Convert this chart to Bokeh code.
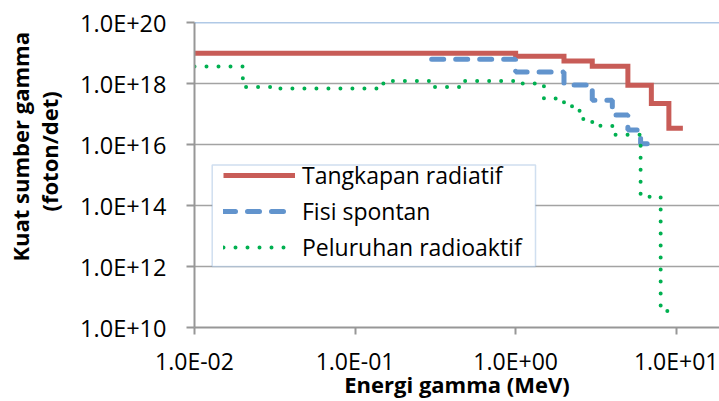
from bokeh.plotting import figure
from bokeh.models import FixedTicker, Span, BoxAnnotation, Title, Legend, LegendItem
from bokeh.embed import file_html
from bokeh.resources import INLINE

# ---- data ----
red_edges = [0.01, 1.0, 2.0, 3.0, 5.0, 7.0, 9.0, 11.0]
red_vals = [9.8e18, 7.8e18, 5.5e18, 3.7e18, 8.7e17, 2.2e17, 3.4e16]

blue_edges = [0.3, 1.0, 2.0, 3.0, 4.0, 5.0, 6.0, 7.0]
blue_vals = [6.2e18, 2.4e18, 9.0e17, 2.85e17, 9.3e16, 3.0e16, 1.05e16]

green_edges = [0.01, 0.02, 0.03, 0.15, 0.3, 0.45, 1.0, 1.5, 2.0, 2.5, 3.0, 4.0, 6.0, 8.0, 10.0]
green_vals = [3.6e18, 7.7e17, 6.8e17, 1.2e18, 7.7e17, 1.2e18, 1.0e18, 3.2e17, 1.8e17,
              6.9e16, 4.1e16, 2.1e16, 1.95e14, 3.5e10]

series_names = ["Tangkapan radiatif", "Fisi spontan", "Peluruhan radioaktif"]

x_ticks = [0.01, 0.1, 1.0, 10.0]
x_labels = ["1.0E-02", "1.0E-01", "1.0E+00", "1.0E+01"]
y_ticks = [1e10, 1e12, 1e14, 1e16, 1e18, 1e20]
y_labels = ["1.0E+10", "1.0E+12", "1.0E+14", "1.0E+16", "1.0E+18", "1.0E+20"]

x_title = "Energi gamma (MeV)"
y_title = ["Kuat sumber gamma", "(foton/det)"]

RED = "#C85C57"
BLUE = "#6294CD"
GREEN = "#00B050"
AXIS = "#979797"
GRID = "#A3A3A3"
FONT = "Open Sans"

p = figure(width=719, height=401, x_axis_type="log", y_axis_type="log",
           x_range=(0.01, 18.6), y_range=(1e10, 1e20),
           output_backend="svg", toolbar_location=None,
           min_border_left=194, min_border_right=0, min_border_top=22, min_border_bottom=72)
p.outline_line_color = None
p.background_fill_color = "white"
p.border_fill_color = "white"

# axes
p.xaxis.ticker = FixedTicker(ticks=x_ticks, minor_ticks=[])
p.yaxis.ticker = FixedTicker(ticks=y_ticks, minor_ticks=[])
p.xaxis.major_label_overrides = dict(zip(x_ticks, x_labels))
p.yaxis.major_label_overrides = dict(zip(y_ticks, y_labels))
for ax in (p.xaxis, p.yaxis):
    ax.axis_line_color = AXIS
    ax.axis_line_width = 2
    ax.major_tick_line_color = AXIS
    ax.major_tick_line_width = 2
    ax.major_tick_in = 0
    ax.minor_tick_line_color = None
    ax.major_label_text_font = FONT
    ax.major_label_text_color = "black"
p.xaxis.major_label_text_font_size = "23px"
p.yaxis.major_label_text_font_size = "23.5px"
p.xaxis.major_tick_out = 7
p.yaxis.major_tick_out = 8
p.xaxis.major_label_standoff = 10
p.yaxis.major_label_standoff = 20
p.xaxis.major_label_text_line_height = 1.0

p.xaxis.axis_label = x_title
p.xaxis.axis_label_standoff = -11
p.xaxis.axis_label_text_line_height = 1.0
p.xaxis.axis_label_text_font = FONT
p.xaxis.axis_label_text_font_size = "22px"
p.xaxis.axis_label_text_font_style = "bold"
p.xaxis.axis_label_text_color = "black"

# y title: two lines, placed in the left panel (inner line first)
p.add_layout(Title(text=y_title[1], align="left", offset=116, standoff=28,
                   text_line_height=1.0,
                   text_font=FONT, text_font_size="22px", text_font_style="bold",
                   text_color="black"), "left")
p.add_layout(Title(text=y_title[0], align="left", offset=66, standoff=-35,
                   text_line_height=1.0,
                   text_font=FONT, text_font_size="22px", text_font_style="bold",
                   text_color="black"), "left")

p.xgrid.visible = False
p.ygrid.grid_line_color = GRID
p.ygrid.grid_line_width = 1.5

p.add_layout(Span(location=1e20, dimension="width", line_color=BLUE, line_width=1.5))

# series
r_red = p.step(x=red_edges, y=red_vals + red_vals[-1:], mode="after",
               line_color=RED, line_width=5, line_join="miter")
r_blue = p.step(x=blue_edges, y=blue_vals + blue_vals[-1:], mode="after",
                line_color=BLUE, line_width=5, line_dash="12 12", line_cap="round")
r_green = p.step(x=green_edges, y=green_vals + green_vals[-1:], mode="after",
                 line_color=GREEN, line_width=4, line_dash="0 12", line_cap="round")

# legend frame + legend
p.add_layout(BoxAnnotation(left=17.7, right=341, top=162.6, bottom=61,
                           left_units="screen", right_units="screen",
                           top_units="screen", bottom_units="screen",
                           fill_color="white", fill_alpha=1.0,
                           line_color=BLUE, line_width=1.5))
legend = Legend(items=[LegendItem(label=series_names[0], renderers=[r_red]),
                       LegendItem(label=series_names[1], renderers=[r_blue]),
                       LegendItem(label=series_names[2], renderers=[r_green])],
                location=(29, 64), padding=0, margin=0, spacing=4,
                glyph_width=72, glyph_height=30, label_height=30, label_standoff=7,
                label_text_font=FONT, label_text_font_size="23px",
                label_text_color="black",
                border_line_color=None, background_fill_alpha=0)
p.add_layout(legend)

open("out.html", "w").write(file_html(p, INLINE))
